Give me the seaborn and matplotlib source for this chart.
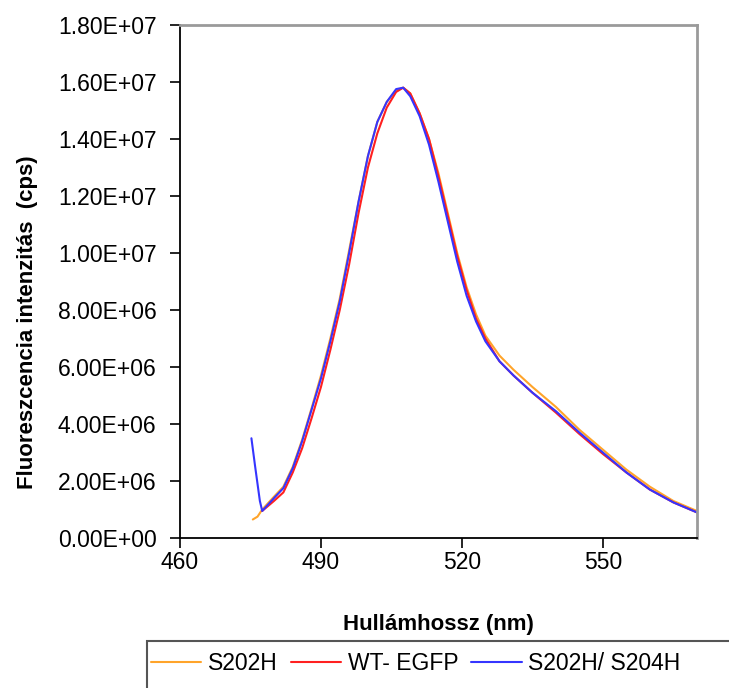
import pandas as pd
import numpy as np
import matplotlib
matplotlib.use('Agg')
import matplotlib.pyplot as plt
import seaborn as sns
from matplotlib.ticker import FuncFormatter
from matplotlib.patches import Rectangle

# wavelength (nm) and intensity (cps)
wl_s202h = [475.5, 476.5, 477.5, 480, 482, 484, 486, 488, 490, 492, 494, 496, 498, 500,
            502, 504, 506, 507.5, 509, 511, 513, 515, 517, 519, 521, 523, 525, 528,
            531, 535, 540, 545, 550, 555, 560, 565, 570]
val_s202h = [0.65e6, 0.75e6, 1.0e6, 1.45e6, 1.8e6, 2.5e6, 3.45e6, 4.55e6, 5.7e6, 7.0e6,
             8.4e6, 1.01e7, 1.18e7, 1.34e7, 1.46e7, 1.53e7, 1.57e7, 1.58e7, 1.56e7,
             1.49e7, 1.40e7, 1.28e7, 1.14e7, 1.0e7, 8.8e6, 7.85e6, 7.1e6, 6.4e6,
             5.9e6, 5.3e6, 4.6e6, 3.8e6, 3.1e6, 2.4e6, 1.8e6, 1.3e6, 0.95e6]

wl_wt = [477.5, 480, 482, 484, 486, 488, 490, 492, 494, 496, 498, 500, 502, 504, 506,
         507.5, 509, 511, 513, 515, 517, 519, 521, 523, 525, 528, 531, 535, 540, 545,
         550, 555, 560, 565, 570]
val_wt = [0.95e6, 1.3e6, 1.6e6, 2.3e6, 3.15e6, 4.2e6, 5.3e6, 6.6e6, 8.0e6, 9.6e6,
          1.14e7, 1.30e7, 1.42e7, 1.51e7, 1.565e7, 1.58e7, 1.56e7, 1.49e7, 1.40e7,
          1.27e7, 1.13e7, 9.9e6, 8.7e6, 7.7e6, 7.0e6, 6.2e6, 5.7e6, 5.1e6, 4.4e6,
          3.65e6, 2.95e6, 2.3e6, 1.7e6, 1.25e6, 0.9e6]

wl_s204h = [475.2, 476, 477, 477.5, 480, 482, 484, 486, 488, 490, 492, 494, 496, 498,
            500, 502, 504, 506, 507.5, 509, 511, 513, 515, 517, 519, 521, 523, 525,
            528, 531, 535, 540, 545, 550, 555, 560, 565, 570]
val_s204h = [3.5e6, 2.5e6, 1.3e6, 0.95e6, 1.4e6, 1.75e6, 2.45e6, 3.4e6, 4.5e6, 5.6e6,
             6.9e6, 8.3e6, 1.0e7, 1.18e7, 1.34e7, 1.46e7, 1.53e7, 1.575e7, 1.58e7,
             1.55e7, 1.48e7, 1.38e7, 1.25e7, 1.11e7, 9.7e6, 8.5e6, 7.6e6, 6.9e6,
             6.2e6, 5.7e6, 5.1e6, 4.45e6, 3.7e6, 3.0e6, 2.3e6, 1.7e6, 1.25e6, 0.9e6]

labels = ['S202H', 'WT- EGFP', 'S202H/ S204H']
colors = ['#FFA42A', '#FF2020', '#3535FF']

x_ticks = [460, 490, 520, 550]
y_ticks = [0, 2e6, 4e6, 6e6, 8e6, 1e7, 1.2e7, 1.4e7, 1.6e7, 1.8e7]

df = pd.concat([
    pd.DataFrame({'wl': wl_s202h, 'val': val_s202h, 'series': labels[0]}),
    pd.DataFrame({'wl': wl_wt, 'val': val_wt, 'series': labels[1]}),
    pd.DataFrame({'wl': wl_s204h, 'val': val_s204h, 'series': labels[2]}),
])

sns.set_style('ticks')
plt.rcParams['font.family'] = ['Liberation Sans', 'DejaVu Sans']
for k in ['text.color', 'axes.labelcolor', 'xtick.color', 'ytick.color']:
    plt.rcParams[k] = 'black'

fig = plt.figure(figsize=(7.29, 6.88), dpi=100)
ax = fig.add_axes([0.2469, 0.218, 0.709, 0.7457])

sns.lineplot(data=df, x='wl', y='val', hue='series', hue_order=labels,
             palette=dict(zip(labels, colors)), estimator=None, sort=False,
             linewidth=1.5, legend=False, ax=ax)

ax.set_xlim(460, 570)
ax.set_ylim(0, 1.8e7)
ax.set_xticks(x_ticks)
ax.set_yticks(y_ticks)
ax.yaxis.set_major_formatter(FuncFormatter(lambda v, p: '%.2E' % v))
ax.tick_params(labelsize=16.5, length=7, width=1.2, color='black')
ax.tick_params(axis='y', pad=10)
ax.tick_params(axis='x', pad=2)

ax.set_xlabel('Hullámhossz (nm)', fontsize=16, fontweight='bold')
ax.xaxis.set_label_coords(0.5, -0.148)
ax.set_ylabel('Fluoreszcencia intenzitás  (cps)', fontsize=16, fontweight='bold')
ax.yaxis.set_label_coords(-0.275, 0.42)

for s in ['left', 'bottom']:
    ax.spines[s].set_color('black')
    ax.spines[s].set_linewidth(1.3)
for s in ['top', 'right']:
    ax.spines[s].set_color('#9a9a9a')
    ax.spines[s].set_linewidth(2)

# legend box runs off the bottom/right edge of the picture
fig.patches.append(Rectangle((147 / 729, -0.05), 0.8, 1 - 641 / 688 + 0.05,
                             transform=fig.transFigure, fill=False,
                             edgecolor='#555555', linewidth=1.5))
handles = [plt.Line2D([], [], color=c, lw=1.5) for c in colors]
fig.legend(handles, labels, loc='center left', bbox_to_anchor=(151 / 729, 1 - 664 / 688),
           ncol=3, fontsize=16.5, frameon=False, handlelength=2.2,
           handletextpad=0.3, columnspacing=0.55, borderpad=0, borderaxespad=0)

fig.savefig('out.png', dpi=100)
